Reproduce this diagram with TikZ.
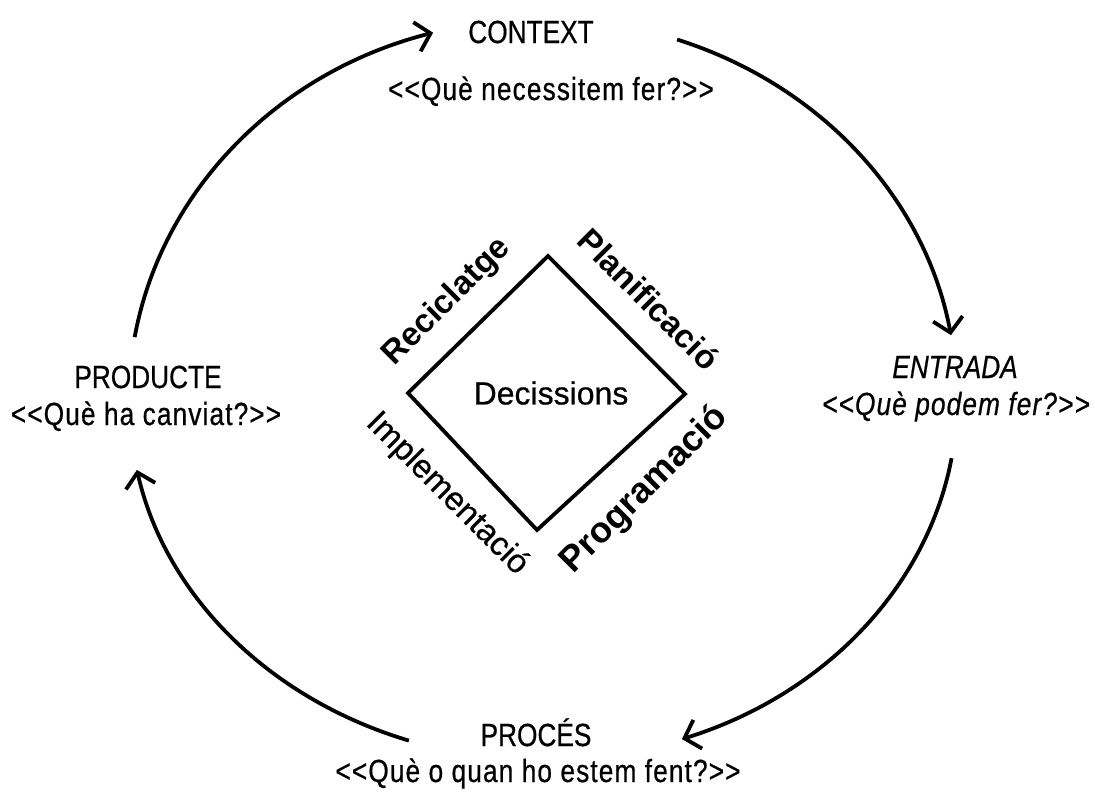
\documentclass[tikz,border=0pt]{standalone}
\usepackage{fontspec}
\setmainfont{Liberation Sans}
\newfontfamily\narrowfont[FakeStretch=0.82, FakeBold=0.6]{Liberation Sans}
\newfontfamily\narrowspaced[FakeStretch=0.82, FakeBold=0.6, LetterSpace=3.5]{Liberation Sans}
\newfontfamily\heavyfont[FakeBold=0.6]{Liberation Sans}
\usetikzlibrary{arrows.meta}
\begin{document}
\begin{tikzpicture}[x=1pt,y=-1pt,
  cyc/.style={line width=3.8pt, -{Straight Barb[length=14pt,width=30pt]}},
  stage/.style={font=\narrowfont\fontsize{32}{38}\selectfont, anchor=base, inner sep=0pt},
  stageq/.style={font=\narrowspaced\fontsize{32}{38}\selectfont, anchor=base, inner sep=0pt},
  stagei/.style={stage, font=\narrowfont\itshape\fontsize{32}{38}\selectfont},
  stageqi/.style={stageq, font=\narrowspaced\itshape\fontsize{32}{38}\selectfont},
  diag/.style={font=\heavyfont\fontsize{33}{38}\selectfont, inner sep=0pt},
  diagb/.style={font=\bfseries\fontsize{33}{38}\selectfont, inner sep=0pt}]
\useasboundingbox (0,0) rectangle (1095,796);
\coordinate (O) at (543,400);

% stage labels
\node[stage] (context) at (531,43) {CONTEXT};
\node[stageq] (contextq) at (551,100) {<{}<Què necessitem fer?>{}>};
\node[stagei] (entrada) at (955,378) {ENTRADA};
\node[stageqi] (entradaq) at (956,415) {<{}<Què podem fer?>{}>};
\node[stage] (proces) at (536,746) {PROCÉS};
\node[stageq] (procesq) at (538,782) {<{}<Què o quan ho estem fent?>{}>};
\node[stage] (producte) at (148,388) {PRODUCTE};
\node[stageq] (producteq) at (146,425) {<{}<Què ha canviat?>{}>};

% cycle arcs
\path (O) ++(189.5:414 and 381) coordinate (a1s);
\path (O) ++(288.9:414 and 381) coordinate (a2s);
\path (O) ++(9.3:414 and 360) coordinate (a3s);
\path (O) ++(108.9:414 and 360) coordinate (a4s);
\draw[cyc] (a1s) arc[start angle=189.5, end angle=254.6, x radius=414, y radius=381];
\draw[cyc] (a2s) arc[start angle=288.9, end angle=350.2, x radius=414, y radius=381];
\draw[cyc] (a3s) arc[start angle=9.3, end angle=70.4, x radius=414, y radius=360];
\draw[cyc] (a4s) arc[start angle=108.9, end angle=168.8, x radius=414, y radius=360];

% diamond
\coordinate (dt) at (548,256);
\coordinate (dr) at (685,394);
\coordinate (db) at (537,530);
\coordinate (dl) at (408,393);
\draw[line width=3.8pt, line join=miter] (dt) -- (dr) -- (db) -- (dl) -- cycle;
\node[font=\heavyfont\fontsize{32}{38}\selectfont] (dec) at (551,393) {Decissions};

\node[diagb, rotate=45] (recic) at (447,302) {Reciclatge};
\node[diagb, rotate=-45] (plan) at (649,299) {Planificació};
\node[diag, rotate=-45] (impl) at (447,494) {Implementació};
\node[diagb, rotate=45, font=\bfseries\fontsize{36}{40}\selectfont] (prog) at (645,490) {Programació};
\end{tikzpicture}
\end{document}
